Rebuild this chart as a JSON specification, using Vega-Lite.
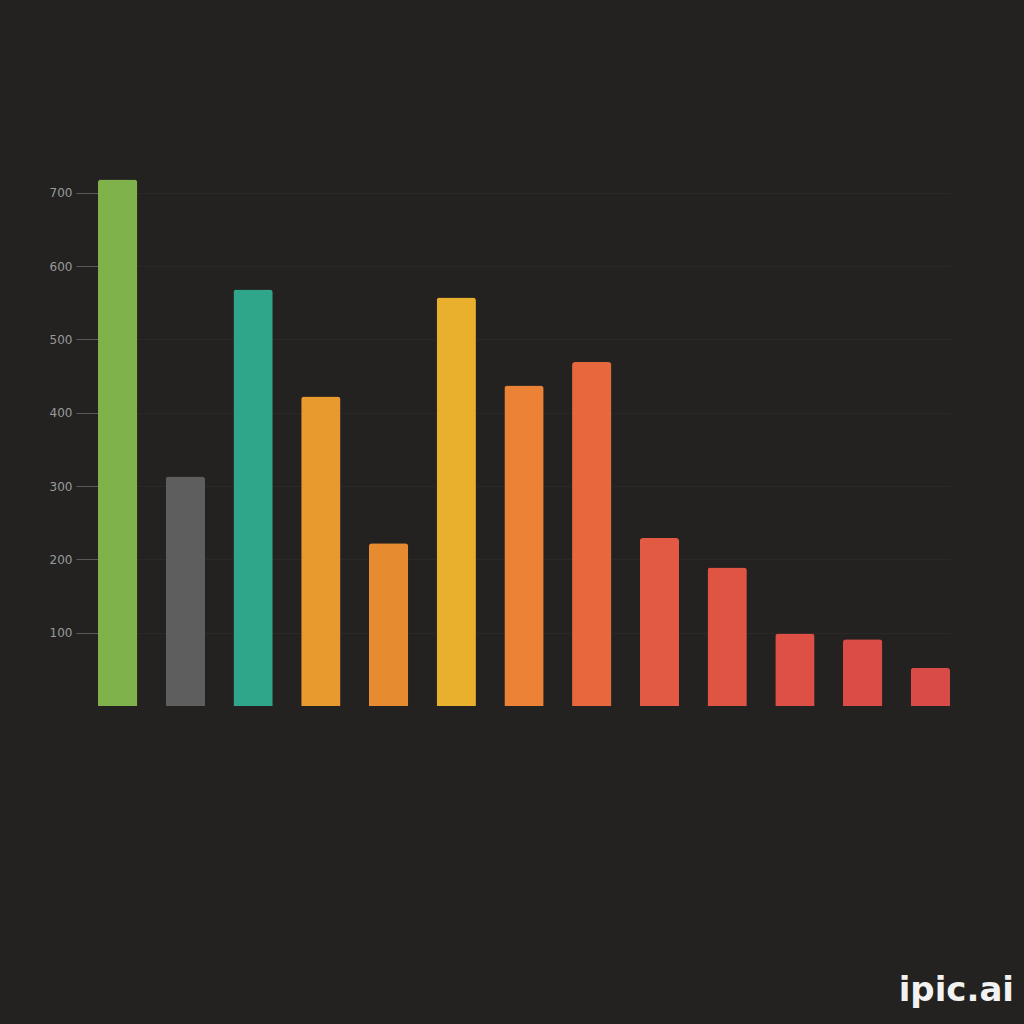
{
  "$schema": "https://vega.github.io/schema/vega-lite/v6.json",
  "autosize": {"type": "none"},
  "width": 852,
  "height": 528,
  "padding": {"left": 98, "top": 178, "right": 74, "bottom": 318},
  "background": "#232221",
  "title": {
    "text": "ipic.ai",
    "orient": "bottom",
    "anchor": "end",
    "offset": 268,
    "dx": 64,
    "font": "DejaVu Sans",
    "fontSize": 34,
    "fontWeight": "bold",
    "color": "#f2f2f2"
  },
  "data": {
    "values": [
      {"item": "A", "value": 718, "colour": "#7fb24a"},
      {"item": "B", "value": 313, "colour": "#5e5e5e"},
      {"item": "C", "value": 568, "colour": "#2fa589"},
      {"item": "D", "value": 422, "colour": "#e99a2f"},
      {"item": "E", "value": 222, "colour": "#e78b31"},
      {"item": "F", "value": 557, "colour": "#e9b02d"},
      {"item": "G", "value": 437, "colour": "#eb8236"},
      {"item": "H", "value": 469, "colour": "#e8683e"},
      {"item": "I", "value": 229, "colour": "#e25a43"},
      {"item": "J", "value": 189, "colour": "#e05444"},
      {"item": "K", "value": 99, "colour": "#de4f45"},
      {"item": "L", "value": 91, "colour": "#dc4c46"},
      {"item": "M", "value": 52, "colour": "#d94b47"}
    ]
  },
  "mark": {
    "type": "bar",
    "cornerRadiusTopLeft": 3,
    "cornerRadiusTopRight": 3
  },
  "encoding": {
    "x": {
      "field": "item",
      "type": "nominal",
      "sort": null,
      "scale": {"paddingInner": 0.42, "paddingOuter": 0},
      "axis": null
    },
    "y": {
      "field": "value",
      "type": "quantitative",
      "scale": {"domain": [0, 720], "nice": false},
      "axis": {
        "title": null,
        "values": [100, 200, 300, 400, 500, 600, 700],
        "domain": false,
        "tickSize": 22,
        "tickColor": "#5a5a5a",
        "labelColor": "#9a9a9a",
        "labelFontSize": 12,
        "labelFont": "DejaVu Sans",
        "labelPadding": 4,
        "gridColor": "#2c2b2a",
        "gridOpacity": 0.8
      }
    },
    "color": {"field": "colour", "type": "nominal", "scale": null, "legend": null}
  },
  "config": {
    "view": {"stroke": null}
  }
}
